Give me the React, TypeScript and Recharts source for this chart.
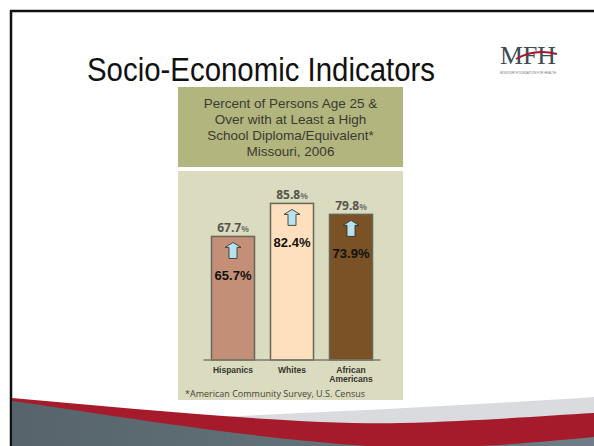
import { Bar, BarChart, LabelList, XAxis, YAxis } from "recharts";

const categories = ["Hispanics", "Whites", "African Americans"];
const rate2006 = [67.7, 85.8, 79.8];
const ratePrior = [65.7, 82.4, 73.9];
const barColors = ["#c48f77", "#ffe0be", "#7a5226"];

const headerLines = [
  "Percent of Persons Age 25 &",
  "Over with at Least a High",
  "School Diploma/Equivalent*",
  "Missouri, 2006",
];
const footnote = "*American Community Survey, U.S. Census";

const data = categories.map((name, i) => ({
  name,
  value: rate2006[i],
  prior: ratePrior[i],
}));

const sans = "'Open Sans', 'Noto Sans', sans-serif";
const arial = "'Liberation Sans', Arial, sans-serif";

function BarShape(props: any) {
  const { x, y, width, height, index, payload } = props;
  const cx = x + width / 2;
  const arrow = [
    [cx, y + 6],
    [cx + 8, y + 11],
    [cx + 4, y + 11],
    [cx + 4, y + 22],
    [cx - 4, y + 22],
    [cx - 4, y + 11],
    [cx - 8, y + 11],
  ]
    .map((p) => p.join(","))
    .join(" ");
  return (
    <g>
      <rect
        x={x}
        y={y}
        width={width}
        height={height}
        fill={barColors[index]}
        stroke="#66665a"
        strokeWidth={1.5}
      />
      <polygon points={arrow} fill="#b8e2ec" stroke="#2a2a2a" strokeWidth={0.8} />
      <text
        x={cx}
        y={y + 44}
        textAnchor="middle"
        fontFamily={arial}
        fontWeight="bold"
        fontSize={13}
        fill="#111"
      >
        {payload.prior}%
      </text>
    </g>
  );
}

function TopLabel(props: any) {
  const { x, y, width, value } = props;
  return (
    <text
      x={x + width / 2}
      y={y - 4}
      textAnchor="middle"
      fontFamily={sans}
      fontWeight="bold"
      fill="#55554e"
    >
      <tspan fontSize={12}>{value}</tspan>
      <tspan fontSize={8.5} fill="#7a7a72">%</tspan>
    </text>
  );
}

function CategoryTick(props: any) {
  const { x, y, payload } = props;
  const words = payload.value.split(" ");
  return (
    <text
      x={x}
      y={y}
      textAnchor="middle"
      fontFamily={arial}
      fontWeight="bold"
      fontSize={8.5}
      fill="#35352e"
    >
      {words.map((w: string, i: number) => (
        <tspan key={w} x={x} dy={i === 0 ? 5 : 9}>
          {w}
        </tspan>
      ))}
    </text>
  );
}

function Slide() {
  return (
    <svg width={594} height={446} style={{ position: "absolute", left: 0, top: 0 }}>
      <defs>
        <linearGradient id="slate" x1="0" y1="0" x2="1" y2="0">
          <stop offset="0%" stopColor="#56636b" />
          <stop offset="100%" stopColor="#6f7e86" />
        </linearGradient>
      </defs>
      <rect x={0} y={0} width={594} height={446} fill="#fff" />
      <line x1={11} y1={10} x2={11} y2={446} stroke="#111" strokeWidth={2.5} />
      <line x1={10} y1={11} x2={594} y2={11} stroke="#111" strokeWidth={2.5} />

      <text
        x={261}
        y={81}
        textAnchor="middle"
        fontFamily="'Liberation Sans Narrow', 'Arial Narrow', sans-serif"
        fontSize={33}
        fill="#111"
        textLength={348}
        lengthAdjust="spacingAndGlyphs"
      >
        Socio-Economic Indicators
      </text>

      <text
        x={500}
        y={64}
        fontFamily="'Liberation Serif', serif"
        fontSize={26}
        fill="#3e4a56"
        textLength={56}
        lengthAdjust="spacingAndGlyphs"
      >
        MFH
      </text>
      <path d="M516 59 C 528 52, 542 50, 557 54" stroke="#a3192c" strokeWidth={2} fill="none" />
      <text
        x={500}
        y={74}
        fontFamily={arial}
        fontSize={3}
        fill="#777"
        textLength={56}
        lengthAdjust="spacingAndGlyphs"
      >
        MISSOURI FOUNDATION FOR HEALTH
      </text>

      <rect x={178} y={87} width={225} height={80} fill="#b2b57e" />
      <rect x={178} y={171} width={225} height={229} fill="#dadbbf" />
      {headerLines.map((line, i) => (
        <text
          key={line}
          x={290.5}
          y={107.5 + i * 16}
          textAnchor="middle"
          fontFamily={arial}
          fontSize={13.5}
          fill="#3a3a30"
        >
          {line}
        </text>
      ))}
      <text x={185} y={397} fontFamily={sans} fontSize={9} fill="#45453c">
        {footnote}
      </text>

      <path d="M12 425 C 150 420, 400 410, 594 397 L 594 446 L 12 446 Z" fill="#d9dbde" />
      <path
        d="M12 398 C 150 410, 300 425, 400 423 C 480 421, 540 416, 594 413 L 594 446 L 12 446 Z"
        fill="#a51b2c"
      />
      <path
        d="M12 401 C 100 413, 250 440, 400 448 C 480 448, 540 442, 594 437 L 594 446 L 12 446 Z"
        fill="url(#slate)"
      />
    </svg>
  );
}

export default function App() {
  return (
    <div
      style={{
        position: "fixed",
        left: 0,
        top: 0,
        width: 594,
        height: 446,
        overflow: "hidden",
        background: "#fff",
      }}
    >
      <Slide />
      <div style={{ position: "absolute", left: 0, top: 0 }}>
        <BarChart
          width={594}
          height={446}
          data={data}
          margin={{ top: 177.5, right: 213.5, left: 203.5, bottom: 56 }}
          barSize={43}
        >
          <XAxis
            dataKey="name"
            height={30}
            interval={0}
            tickLine={false}
            axisLine={{ stroke: "#7b7b6c", strokeWidth: 1.5 }}
            tick={<CategoryTick />}
          />
          <YAxis hide domain={[0, 100]} />
          <Bar dataKey="value" shape={<BarShape />} isAnimationActive={false}>
            <LabelList dataKey="value" content={<TopLabel />} />
          </Bar>
        </BarChart>
      </div>
    </div>
  );
}
